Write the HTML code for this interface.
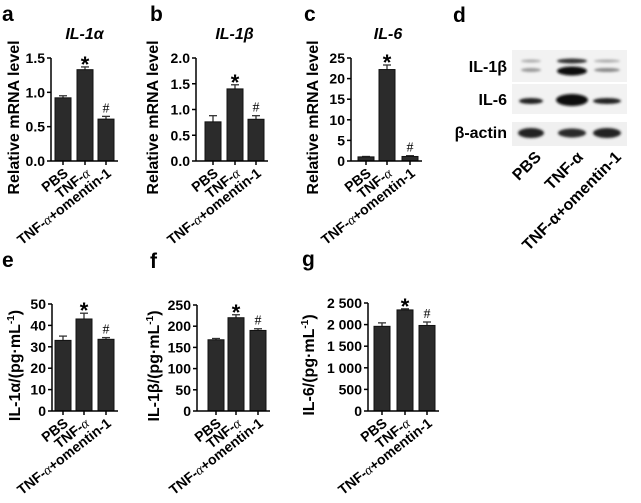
<!DOCTYPE html>
<html><head><meta charset="utf-8"><style>
body{margin:0;background:#fff;width:641px;height:498px;overflow:hidden}
svg{font-family:"Liberation Sans",sans-serif;font-weight:bold}
</style></head><body>
<svg id="s" width="641" height="498">
<g>
<text x="453" y="22" font-size="21">d</text>
<rect x="512" y="50" width="115" height="32" fill="#f2f2f2"/>
<rect x="512" y="84" width="115" height="30" fill="#f2f2f2"/>
<rect x="512" y="122" width="115" height="24" fill="#f0f0f0"/>
<defs><filter id="bl"><feGaussianBlur stdDeviation="1.2"/></filter></defs>
<g filter="url(#bl)">
<ellipse cx="531" cy="61" rx="10" ry="1.5" fill="#aaa"/><ellipse cx="531" cy="70" rx="10" ry="2" fill="#999"/>
<ellipse cx="572" cy="61" rx="15" ry="2.5" fill="#333"/><ellipse cx="572" cy="71" rx="15" ry="4.5" fill="#111"/>
<ellipse cx="607" cy="61" rx="13" ry="1.5" fill="#aaa"/><ellipse cx="607" cy="70" rx="13" ry="2" fill="#888"/>
<ellipse cx="531" cy="101" rx="12" ry="3" fill="#222"/><ellipse cx="572" cy="100" rx="16" ry="6" fill="#111"/><ellipse cx="607" cy="101" rx="14" ry="3" fill="#222"/>
<ellipse cx="531" cy="133" rx="13" ry="5" fill="#222"/><ellipse cx="572" cy="133" rx="14" ry="4.5" fill="#2a2a2a"/><ellipse cx="607" cy="133" rx="14" ry="5" fill="#222"/>
</g>
<text x="507" y="72" font-size="16" text-anchor="end" font-family="Liberation Sans,DejaVu Sans,sans-serif">IL-1β</text>
<text x="507" y="105" font-size="16" text-anchor="end">IL-6</text>
<text x="507" y="138" font-size="16" text-anchor="end" font-family="Liberation Sans,DejaVu Sans,sans-serif">β-actin</text>
<text transform="translate(542,158) rotate(-45)" font-size="16" text-anchor="end">PBS</text>
<text transform="translate(584,158) rotate(-45)" font-size="16" text-anchor="end">TNF-α</text>
<text transform="translate(622,158) rotate(-45)" font-size="16" text-anchor="end">TNF-α+omentin-1</text>
</g>
</svg>
<script>
const categories=["PBS","TNF-α","TNF-α+omentin-1"];
const aValues=[0.92,1.33,0.61], aErrors=[0.03,0.04,0.04], aTicks=["0.0","0.5","1.0","1.5"];
const bValues=[0.76,1.40,0.81], bErrors=[0.12,0.08,0.07], bTicks=["0.0","0.5","1.0","1.5","2.0"];
const cValues=[1.0,22.2,1.1], cErrors=[0.1,1.1,0.2], cTicks=["0","5","10","15","20","25"];
const eValues=[33,43,33.5], eErrors=[2,2.7,0.8], eTicks=["0","10","20","30","40","50"];
const fValues=[168,220,190], fErrors=[3,7,4], fTicks=["0","50","100","150","200","250"];
const gValues=[1960,2340,1980], gErrors=[80,25,80], gTicks=["0","500","1 000","1 500","2 000","2 500"];
const marks=["","*","#"];
const NS="http://www.w3.org/2000/svg", svg=document.getElementById('s');
function el(t,a,p){const e=document.createElementNS(NS,t);for(const k in a)e.setAttribute(k,a[k]);(p||svg).appendChild(e);return e;}
function panel(id,letter,title,ytitle,vals,errs,ticks,ax,top,bot,bars,bw,lx,ty){
  const g=el('g',{});
  
  
  const max=parseFloat(ticks[ticks.length-1].replace(' ',''));
  const y=v=>bot-(v/max)*(bot-top);
  const L=el('text',{x:lx,y:top-37,'font-size':21},g);L.textContent=letter;
  
  
  if(title){const t=el('text',{x:(bars[0]+bars[2]+bw)/2,y:top-19,'font-size':16,'font-style':'italic','text-anchor':'middle'},g);t.textContent=title;
    
    }
  const yt=el('text',{transform:`translate(${ty},${(top+bot)/2+8}) rotate(-90)`,'font-size':16,'text-anchor':'middle'},g);
  yt.innerHTML=ytitle;
  
  
  ticks.forEach(tk=>{const v=parseFloat(tk.replace(' ',''));const yy=y(v);
    el('line',{x1:ax-4,x2:ax,y1:yy,y2:yy,stroke:'#000','stroke-width':1.5},g);
    const t=el('text',{x:ax-6,y:yy+5,'font-size':14,'text-anchor':'end'},g);t.textContent=tk;
    
    });
  vals.forEach((v,i)=>{const x=bars[i];
    const et=y(v+errs[i]);
    el('line',{x1:x+bw/2,x2:x+bw/2,y1:et,y2:y(v),stroke:'#333','stroke-width':1.3},g);
    el('line',{x1:x+bw/2-4,x2:x+bw/2+4,y1:et,y2:et,stroke:'#333','stroke-width':1.3},g);
    const r=el('rect',{x:x,y:y(v),width:bw,height:bot-y(v),fill:'#2b2b2b',stroke:'#111','stroke-width':1},g);
    
    
    if(marks[i]){const m=el('text',{x:x+bw/2,y:i==1?et+5:et-4,'font-size':i==1?22:14,'font-weight':i==1?'bold':'normal','text-anchor':'middle','font-family':i==1?'Liberation Sans,sans-serif':'Liberation Serif,serif'},g);
      m.textContent=marks[i];
      
      }
    const c=el('text',{transform:`translate(${x+bw/2+6},${bot+14}) rotate(-38)`,'font-size':14,'text-anchor':'end'},g);
    c.innerHTML=categories[i].replace('α','<tspan font-family="Liberation Serif,serif" font-style="italic" font-weight="normal">α</tspan>');
    
    
  });
  el('line',{x1:ax,x2:ax,y1:top,y2:bot,stroke:'#000','stroke-width':1.5},g);
  el('line',{x1:ax,x2:bars[2]+bw+4,y1:bot,y2:bot,stroke:'#000','stroke-width':1.5},g);
  [0,1,2].forEach(i=>el('line',{x1:bars[i]+bw/2,x2:bars[i]+bw/2,y1:bot,y2:bot+4,stroke:'#000','stroke-width':1.5},g));
}
const rm='Relative mRNA level';
const pm='/(pg·mL<tspan dy="-6" font-size="10">-1</tspan><tspan dy="6">)</tspan>';
panel('a','a','IL-1α',rm,aValues,aErrors,aTicks,51,58,161,[55,77,98],16,2,19);
panel('b','b','IL-1β',rm,bValues,bErrors,bTicks,196,58,161,[205,227,248],16,150,158);
panel('c','c','IL-6',rm,cValues,cErrors,cTicks,351,58,161,[358,379,402],16,304,318);
panel('e','e','','IL-1α'+pm,eValues,eErrors,eTicks,52,304,411,[55,76,98],16,2,20);
panel('f','f','','IL-1β'+pm,fValues,fErrors,fTicks,197,305,411,[208,228,250],16,150,159);
panel('g','g','','IL-6'+pm,gValues,gErrors,gTicks,368,303,411,[374,397,419],16,302,314);
</script>
</body></html>
